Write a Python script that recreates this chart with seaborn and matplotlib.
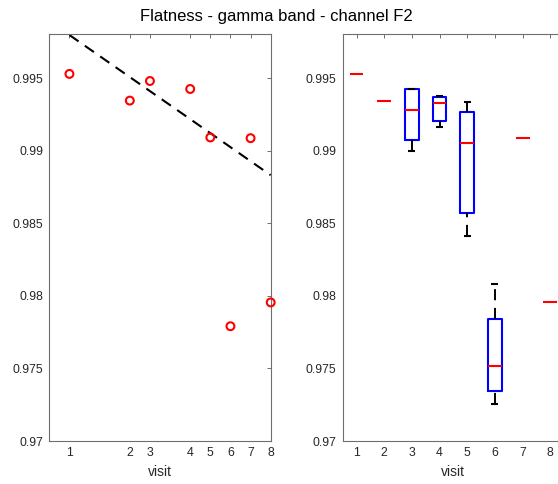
import matplotlib
matplotlib.use("Agg")
import matplotlib.pyplot as plt
import seaborn as sns
import numpy as np
import pandas as pd

# ---------------- data ----------------
visit_labels = [1, 2, 3, 4, 5, 6, 7, 8]
visit_time = [0, 3, 4, 6, 7, 8, 9, 10]          # x positions of the visits (left panel)
flatness_summary = [0.99530, 0.99346, 0.99481, 0.99426, 0.99092, 0.97791, 0.99087, 0.97955]
fit_intercept = 0.99798
fit_slope = -0.000966

box_visit = [1, 2, 3, 4, 5, 6, 7, 8]
box_med = [0.99530, 0.99346, 0.99282, 0.99332, 0.99054, 0.97516, 0.99089, 0.97959]
box_q1 = [0.99530, 0.99346, 0.99073, 0.99204, 0.98574, 0.97345, 0.99089, 0.97959]
box_q3 = [0.99530, 0.99346, 0.99426, 0.99369, 0.99268, 0.97842, 0.99089, 0.97959]
box_whislo = [0.99530, 0.99346, 0.99001, 0.99162, 0.98413, 0.97258, 0.99089, 0.97959]
box_whishi = [0.99530, 0.99346, 0.99426, 0.99380, 0.99339, 0.98083, 0.99089, 0.97959]

y_ticks = [0.97, 0.975, 0.98, 0.985, 0.99, 0.995]
y_ticklabels = ["0.97", "0.975", "0.98", "0.985", "0.99", "0.995"]
y_limits = (0.97, 0.99805)

title_text = "Flatness - gamma band - channel F2"
x_label = "visit"

# ---------------- style ----------------
sns.set_style("white")
plt.rcParams["font.family"] = ["Liberation Sans", "DejaVu Sans"]
plt.rcParams["lines.scale_dashes"] = False

SPINE = "#6e6e6e"
TXT = "#262626"

W, H = 558, 484
fig = plt.figure(figsize=(W / 100, H / 100), dpi=100)
axL = fig.add_axes([49.3 / W, 43 / H, 221.4 / W, 407 / H])
axR = fig.add_axes([342.7 / W, 43 / H, 221.4 / W, 407 / H])


def style_axes(ax):
    for s in ax.spines.values():
        s.set_visible(True)
        s.set_color(SPINE)
        s.set_linewidth(0.8)
    ax.tick_params(direction="in", length=3, width=0.7, top=True, right=True,
                   color=SPINE, labelcolor=TXT, labelsize=8.8, pad=4.5)
    ax.set_ylim(*y_limits)
    ax.set_yticks(y_ticks)
    ax.set_yticklabels(y_ticklabels)
    ax.set_xlabel(x_label, fontsize=10, color=TXT, labelpad=4)
    ax.set_ylabel("")


# ---------------- left panel ----------------
df_pts = pd.DataFrame({"time": visit_time, "flatness": flatness_summary})
line_t = np.array([visit_time[0], visit_time[-1]], dtype=float)
df_fit = pd.DataFrame({"time": line_t, "fit": fit_intercept + fit_slope * line_t})

sns.lineplot(data=df_fit, x="time", y="fit", ax=axL, color="black",
             linewidth=1.5, zorder=2)
for ln in axL.get_lines():
    ln.set_dashes((8, 5.5))
    ln.set_dash_capstyle("butt")

sns.scatterplot(data=df_pts, x="time", y="flatness", ax=axL, marker="o", s=32,
                facecolor="none", edgecolor="red", linewidth=1.5,
                clip_on=False, zorder=3)
axL.set_xlim(-1, 10)
axL.set_xticks(visit_time)
axL.set_xticklabels([str(v) for v in visit_labels])
style_axes(axL)

# ---------------- right panel ----------------
stats_multi, pos_multi, stats_single, pos_single = [], [], [], []
for v, md, q1, q3, lo, hi in zip(box_visit, box_med, box_q1, box_q3, box_whislo, box_whishi):
    st = dict(med=md, q1=q1, q3=q3, whislo=lo, whishi=hi, fliers=[])
    if q3 > q1:
        stats_multi.append(st)
        pos_multi.append(v)
    else:
        stats_single.append(st)
        pos_single.append(v)

res = axR.bxp(stats_multi, positions=pos_multi, widths=0.5, capwidths=0.25,
              showfliers=False,
              boxprops=dict(color="blue", linewidth=1.5),
              medianprops=dict(color="red", linewidth=1.5, solid_capstyle="butt"),
              whiskerprops=dict(color="black", linewidth=1.4, linestyle=(0, (8, 5.5)),
                                dash_capstyle="butt"),
              capprops=dict(color="black", linewidth=1.5, solid_capstyle="butt"),
              manage_ticks=False)
# MATLAB draws the lower whisker from the cap towards the box
for i, w in enumerate(res["whiskers"]):
    if i % 2 == 0:
        w.set_ydata(list(w.get_ydata())[::-1])

axR.bxp(stats_single, positions=pos_single, widths=0.5, showfliers=False,
        showbox=False, showcaps=False,
        whiskerprops=dict(linewidth=0),
        medianprops=dict(color="red", linewidth=1.5, solid_capstyle="butt"),
        manage_ticks=False)

axR.set_xlim(0.5, 8.5)
axR.set_xticks(box_visit)
axR.set_xticklabels([str(v) for v in visit_labels])
style_axes(axR)

fig.text(0.495, 1 - 17 / H, title_text, ha="center", va="center",
         fontsize=12, color="black")

fig.savefig("out.png", dpi=100)
